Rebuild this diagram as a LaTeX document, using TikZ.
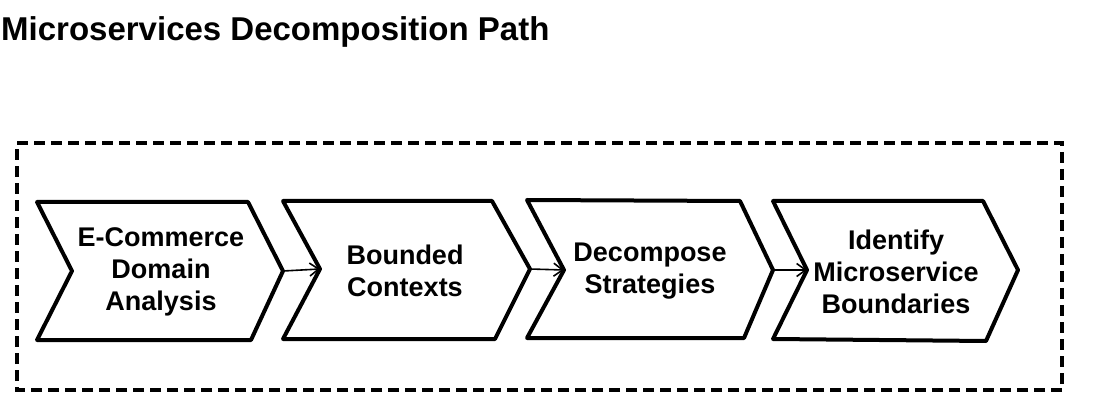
\documentclass[tikz,border=0pt]{standalone}
\usepackage{fontspec}
\setmainfont{Liberation Sans}
\usetikzlibrary{arrows.meta}
\begin{document}
\begin{tikzpicture}[x=1pt,y=-1pt,
  chev/.style={draw=black,line width=4pt,line join=round,line cap=round,fill=white},
  lbl/.style={align=center,font=\fontsize{27}{32}\selectfont\bfseries,inner sep=0pt},
  conn/.style={draw=black,line width=1.6pt,-{Straight Barb[length=9pt,width=13pt,line width=1.6pt]}},
  dashframe/.style={draw=black,line width=3.6pt,dash pattern=on 11pt off 6pt}]
\useasboundingbox (0,0) rectangle (1094,411);
% title
\node[anchor=base west,inner sep=0pt,font=\fontsize{33}{38}\selectfont\bfseries] (title) at (1,41) {Microservices Decomposition Path};
% frame
\draw[dashframe] (17,143) -- (1062,143) -- (1062,390) -- (17,390) -- cycle;
% chevrons
\draw[chev] (37,202) -- (248,202) -- (283,271) -- (251,340) -- (37,340) -- (72,271) -- cycle;
\draw[chev] (283,201) -- (492,201) -- (530,269) -- (495,339) -- (283,339) -- (320,269) -- cycle;
\draw[chev] (527,200) -- (740,201) -- (773,270) -- (744,338) -- (527,338) -- (564,270) -- cycle;
\draw[chev] (773,201) -- (983,201) -- (1018,270) -- (986,341) -- (773,339) -- (807,270) -- cycle;
% named tips / notches
\coordinate (t1) at (283,271);
\coordinate (n2) at (320,269);
\coordinate (t2) at (530,269);
\coordinate (n3) at (564,270);
\coordinate (t3) at (773,270);
\coordinate (n4) at (807,270);
% labels
\node[lbl] (a) at (161,272) {E-Commerce\\Domain\\Analysis};
\node[lbl] (b) at (405,271) {Bounded\\Contexts};
\node[lbl] (c) at (650,271) {Decompose\\Strategies};
\node[lbl] (d) at (896,272) {Identify\\Microservice\\Boundaries};
% connectors
\draw[conn] (t1) -- (n2);
\draw[conn] (t2) -- (n3);
\draw[conn] (t3) -- (n4);
\end{tikzpicture}
\end{document}
